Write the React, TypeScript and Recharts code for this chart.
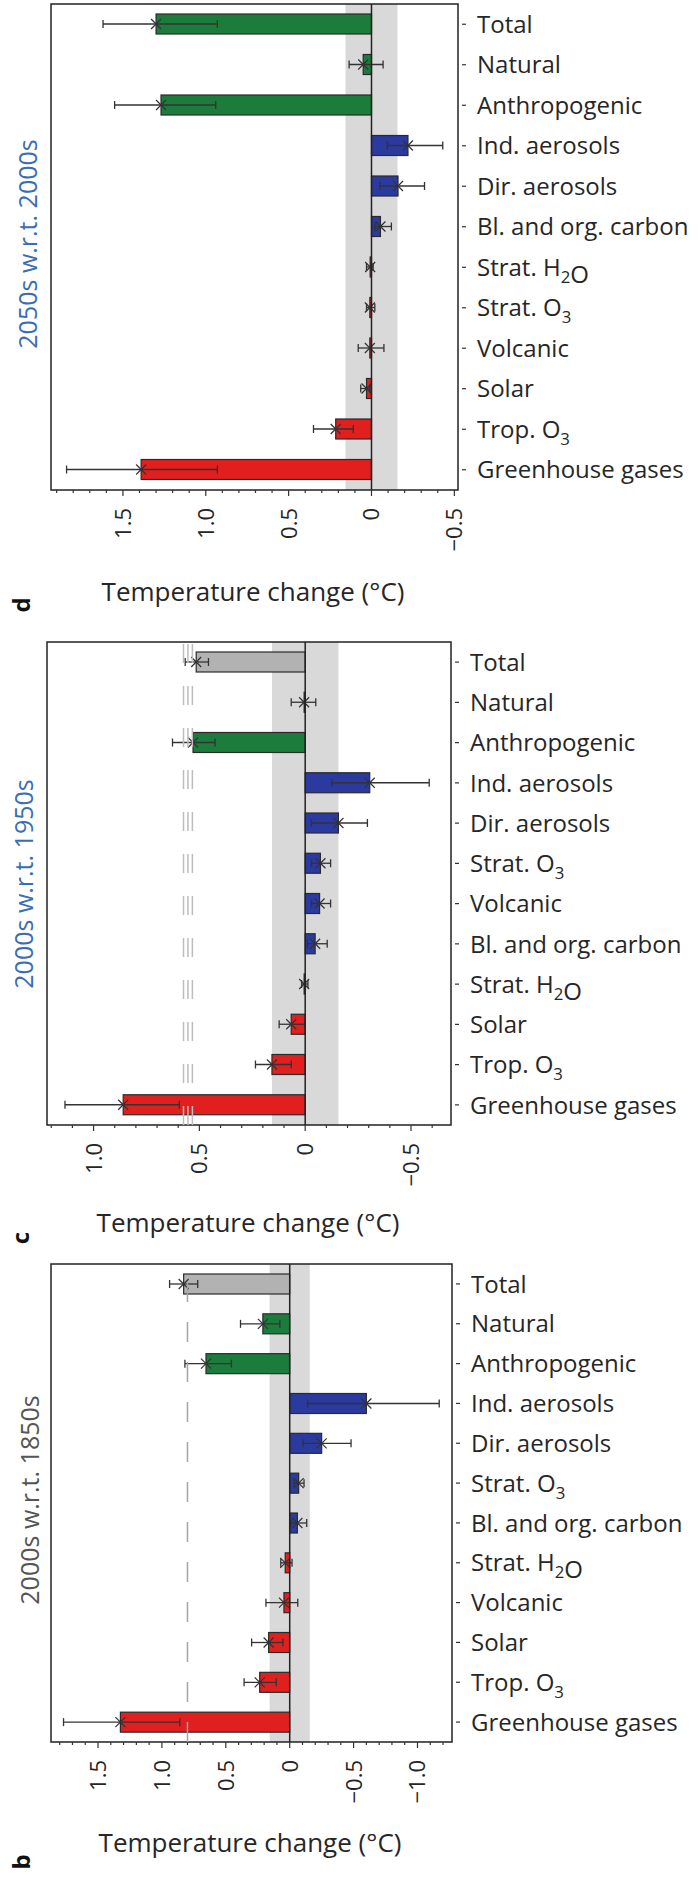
import { Bar, BarChart, ErrorBar, ReferenceArea, ReferenceLine, XAxis, YAxis } from 'recharts'

// three stacked panels (d, c, b), horizontal bars, value axis reversed (warming to the left)

const COLORS: Record<string, string> = {
  red: '#e21f1f',
  blue: '#2b3a9e',
  green: '#1c7c3b',
  gray: '#b2b2b2',
}
const FONT = '"Open Sans", "DejaVu Sans", sans-serif'
const TEXT = '#262626'
const BAND = 0.157

// ---- panel d: 2050s w.r.t. 2000s
const CATS_D = ['Total', 'Natural', 'Anthropogenic', 'Ind. aerosols', 'Dir. aerosols', 'Bl. and org. carbon', 'Strat. H₂O', 'Strat. O₃', 'Volcanic', 'Solar', 'Trop. O₃', 'Greenhouse gases']
const VALS_D = [1.3, 0.05, 1.27, -0.22, -0.16, -0.054, 0.008, 0.01, 0.01, 0.03, 0.216, 1.39]
const HI_D = [1.62, 0.135, 1.55, -0.095, -0.05, -0.02, 0.03, 0.03, 0.08, 0.065, 0.35, 1.84]
const LO_D = [0.93, -0.07, 0.94, -0.43, -0.32, -0.12, -0.01, -0.02, -0.075, 0.01, 0.11, 0.93]
const COLS_D = ['green', 'green', 'green', 'blue', 'blue', 'blue', 'red', 'red', 'red', 'red', 'red', 'red']
const MAJOR_D = [1.5, 1.0, 0.5, 0, -0.5]
const OBS_D: number[] = []

// ---- panel c: 2000s w.r.t. 1950s
const CATS_C = ['Total', 'Natural', 'Anthropogenic', 'Ind. aerosols', 'Dir. aerosols', 'Strat. O₃', 'Volcanic', 'Bl. and org. carbon', 'Strat. H₂O', 'Solar', 'Trop. O₃', 'Greenhouse gases']
const VALS_C = [0.515, 0.005, 0.53, -0.305, -0.157, -0.072, -0.068, -0.047, 0.005, 0.066, 0.157, 0.86]
const HI_C = [0.567, 0.066, 0.627, -0.125, -0.03, -0.03, -0.03, -0.01, 0.017, 0.123, 0.235, 1.135]
const LO_C = [0.457, -0.05, 0.426, -0.586, -0.294, -0.12, -0.12, -0.104, -0.013, 0.002, 0.066, 0.595]
const COLS_C = ['gray', 'green', 'green', 'blue', 'blue', 'blue', 'blue', 'blue', 'red', 'red', 'red', 'red']
const MAJOR_C = [1.0, 0.5, 0, -0.5]
const OBS_C = [0.533, 0.554, 0.575]

// ---- panel b: 2000s w.r.t. 1850s
const CATS_B = ['Total', 'Natural', 'Anthropogenic', 'Ind. aerosols', 'Dir. aerosols', 'Strat. O₃', 'Bl. and org. carbon', 'Strat. H₂O', 'Volcanic', 'Solar', 'Trop. O₃', 'Greenhouse gases']
const VALS_B = [0.83, 0.21, 0.655, -0.6, -0.25, -0.07, -0.06, 0.035, 0.045, 0.165, 0.235, 1.325]
const HI_B = [0.94, 0.385, 0.82, -0.14, -0.105, -0.035, -0.007, 0.07, 0.186, 0.298, 0.357, 1.77]
const LO_B = [0.72, 0.077, 0.456, -1.17, -0.48, -0.112, -0.133, -0.018, -0.063, 0.053, 0.105, 0.86]
const COLS_B = ['gray', 'green', 'green', 'blue', 'blue', 'blue', 'blue', 'red', 'red', 'red', 'red', 'red']
const MAJOR_B = [1.5, 1.0, 0.5, 0, -0.5, -1.0]
const OBS_B = [0.8]

const SUBS: Record<string, string> = { '₂': '2', '₃': '3' }

function subText(label: string) {
  const parts: any[] = []
  let buf = ''
  let k = 0
  for (const ch of label) {
    if (SUBS[ch]) {
      if (buf) parts.push(<tspan key={k++}>{buf}</tspan>)
      buf = ''
      parts.push(<tspan key={k++} dy={7} fontSize="0.7em">{SUBS[ch]}</tspan>)
      parts.push(<tspan key={k++} dy={-7}>{''}</tspan>)
    } else buf += ch
  }
  if (buf) parts.push(<tspan key={k++}>{buf}</tspan>)
  return parts
}

function fmt(v: number) {
  if (Math.abs(v) < 1e-9) return '0'
  return (v < 0 ? '−' : '') + Math.abs(v).toFixed(1)
}

function minorTicks(lo: number, hi: number) {
  const out: number[] = []
  for (let i = Math.round(lo * 10); i <= Math.round(hi * 10); i++) out.push(i / 10)
  return out
}

function CatTick(props: any) {
  const { x, y, payload } = props
  return (
    <g>
      <line x1={x + 4} y1={y} x2={x + 8} y2={y} stroke="#333" strokeWidth={1.2} />
      <text x={x + 19} y={y} dy="0.36em" fontSize={24} fill={TEXT} fontFamily={FONT}>
        {subText(String(payload.value))}
      </text>
    </g>
  )
}

function makeValTick(majors: number[]) {
  return (props: any) => {
    const { x, y, payload } = props
    const v = payload.value as number
    const major = majors.some((m) => Math.abs(m - v) < 1e-6)
    return (
      <g>
        <line x1={x} y1={y} x2={x} y2={y + (major ? 6 : 3)} stroke="#333" strokeWidth={1.2} />
        {major && (
          <text
            transform={`translate(${x + 8},${y + 18}) rotate(-90)`}
            textAnchor="end"
            fontSize={22}
            fill={TEXT}
            fontFamily={FONT}
          >
            {fmt(v)}
          </text>
        )}
      </g>
    )
  }
}

function BarShape(props: any) {
  const { x, y, width, height, payload } = props
  const left = Math.min(x, x + width)
  const w = Math.abs(width)
  const cy = y + height / 2
  const mx = payload.value >= 0 ? left : left + w
  return (
    <g>
      <rect x={left} y={y} width={w} height={height} fill={payload.color} stroke="#2a2a2a" strokeWidth={1.2} />
      <line x1={mx - 5} y1={cy - 5} x2={mx + 5} y2={cy + 5} stroke="#333" strokeWidth={1.2} />
      <line x1={mx - 5} y1={cy + 5} x2={mx + 5} y2={cy - 5} stroke="#333" strokeWidth={1.2} />
    </g>
  )
}

interface PanelProps {
  top: number
  height: number
  frame: [number, number, number, number] // left, top, right, bottom (page coords)
  domain: [number, number]
  cats: string[]
  vals: number[]
  lo: number[]
  hi: number[]
  cols: string[]
  majors: number[]
  obs: number[]
  obsColor: string
  obsDash: string
}

function Panel(p: PanelProps) {
  const [fl, ft, fr, fb] = p.frame
  const data = p.cats.map((name, i) => ({
    name,
    value: p.vals[i],
    err: [p.vals[i] - p.lo[i], p.hi[i] - p.vals[i]],
    color: COLORS[p.cols[i]],
  }))
  const ticks = minorTicks(Math.ceil(p.domain[0] * 10) / 10, Math.floor(p.domain[1] * 10) / 10)
  return (
    <div style={{ position: 'absolute', left: 0, top: p.top }}>
      <BarChart
        width={699}
        height={p.height}
        data={data}
        layout="vertical"
        margin={{ top: ft - p.top, left: fl, right: 0, bottom: 0 }}
        barSize={20}
      >
        <XAxis
          type="number"
          domain={p.domain}
          reversed
          allowDataOverflow
          ticks={ticks}
          interval={0}
          tick={makeValTick(p.majors)}
          tickLine={false}
          axisLine={false}
          tickSize={0}
          tickMargin={0}
          height={p.top + p.height - fb}
        />
        <YAxis
          type="category"
          dataKey="name"
          orientation="right"
          width={699 - fr}
          tick={<CatTick />}
          tickLine={false}
          axisLine={false}
          tickSize={0}
          tickMargin={0}
          interval={0}
        />
        <ReferenceArea x1={-BAND} x2={BAND} fill="#d9d9d9" fillOpacity={1} stroke="none" />
        <Bar dataKey="value" shape={<BarShape />} isAnimationActive={false}>
          <ErrorBar dataKey="err" direction="x" width={4} stroke="#333" strokeWidth={1.3} />
        </Bar>
        <ReferenceLine x={0} stroke="#222" strokeWidth={1.5} />
        {p.obs.map((v) => (
          <ReferenceLine key={v} x={v} stroke={p.obsColor} strokeWidth={1.5} strokeDasharray={p.obsDash} />
        ))}
        <ReferenceArea x1={p.domain[0]} x2={p.domain[1]} fill="none" stroke="#222" strokeWidth={1.5} />
      </BarChart>
    </div>
  )
}

function VText(props: { x: number; y: number; size: number; color: string; bold?: boolean; children: string }) {
  return (
    <div
      style={{
        position: 'absolute',
        left: props.x,
        top: props.y,
        transform: 'translate(-50%, -50%) rotate(-90deg)',
        whiteSpace: 'nowrap',
        fontSize: props.size,
        color: props.color,
        fontWeight: props.bold ? 700 : 400,
        fontFamily: FONT,
        lineHeight: 1,
      }}
    >
      {props.children}
    </div>
  )
}

function HText(props: { x: number; y: number; size: number; children: string }) {
  return (
    <div
      style={{
        position: 'absolute',
        left: props.x,
        top: props.y,
        transform: 'translate(-50%, -50%)',
        whiteSpace: 'nowrap',
        fontSize: props.size,
        color: TEXT,
        fontFamily: FONT,
        lineHeight: 1,
      }}
    >
      {props.children}
    </div>
  )
}

export default function App() {
  return (
    <div style={{ position: 'absolute', left: 0, top: 0, width: 699, height: 1881, background: '#fff', overflow: 'hidden' }}>
      <Panel
        top={0}
        height={620}
        frame={[51, 4, 458, 490]}
        domain={[-0.522, 1.934]}
        cats={CATS_D}
        vals={VALS_D}
        lo={LO_D}
        hi={HI_D}
        cols={COLS_D}
        majors={MAJOR_D}
        obs={OBS_D}
        obsColor="#aaa"
        obsDash="20 20"
      />
      <Panel
        top={620}
        height={620}
        frame={[47, 642, 451, 1125]}
        domain={[-0.689, 1.22]}
        cats={CATS_C}
        vals={VALS_C}
        lo={LO_C}
        hi={HI_C}
        cols={COLS_C}
        majors={MAJOR_C}
        obs={OBS_C}
        obsColor="#bdbdbd"
        obsDash="19 23"
      />
      <Panel
        top={1240}
        height={641}
        frame={[51, 1264, 452, 1742]}
        domain={[-1.27, 1.868]}
        cats={CATS_B}
        vals={VALS_B}
        lo={LO_B}
        hi={HI_B}
        cols={COLS_B}
        majors={MAJOR_B}
        obs={OBS_B}
        obsColor="#a3a3a3"
        obsDash="20 20"
      />

      <VText x={27} y={244} size={25} color="#3a6db3">2050s w.r.t. 2000s</VText>
      <VText x={23} y={884} size={25} color="#3a6db3">2000s w.r.t. 1950s</VText>
      <VText x={29} y={1500} size={25} color="#555">2000s w.r.t. 1850s</VText>

      <VText x={21} y={605} size={24} color="#111" bold>d</VText>
      <VText x={20} y={1238} size={24} color="#111" bold>c</VText>
      <VText x={21} y={1862} size={24} color="#111" bold>b</VText>

      <HText x={253} y={591} size={26}>Temperature change (°C)</HText>
      <HText x={248} y={1222} size={26}>Temperature change (°C)</HText>
      <HText x={250} y={1842} size={26}>Temperature change (°C)</HText>
    </div>
  )
}
